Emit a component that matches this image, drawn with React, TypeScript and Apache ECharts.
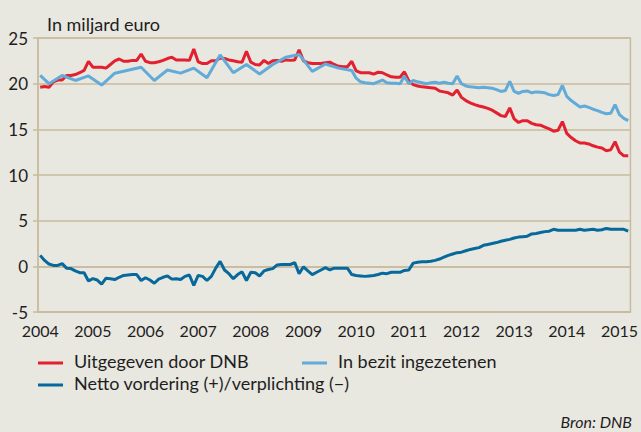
import React, { useEffect, useRef } from "react";
import * as echarts from "echarts";

// Monthly, January 2004 – March 2015 (135 months)
const startYear = 2004;
const monthCount = 135;

const uitgegeven: number[] = [
  19.6, 19.7, 19.6, 20.2, 20.4, 20.4, 20.9, 20.9, 21.0, 21.2, 21.45, 22.45,
  21.8, 21.8, 21.8, 21.7, 22.1, 22.5, 22.7, 22.45, 22.45, 22.55, 22.55, 23.25,
  22.45, 22.3, 22.3, 22.4, 22.55, 22.75, 22.9, 22.6, 22.6, 22.6, 22.55, 23.8,
  22.4, 22.2, 22.2, 22.5, 22.5, 22.8, 22.75, 22.6, 22.5, 22.4, 22.35, 23.55,
  22.35, 22.1, 22.05, 22.55, 22.2, 22.5, 22.55, 22.45, 22.6, 22.55, 22.6, 23.7,
  22.5, 22.3, 22.2, 22.2, 22.2, 22.3, 22.35, 22.1, 21.9, 21.85, 21.85, 22.45,
  21.4, 21.2, 21.2, 21.2, 21.05, 21.25, 21.2, 20.95, 20.75, 20.7, 20.7, 21.3,
  20.3, 19.9, 19.75, 19.65, 19.6, 19.55, 19.5, 19.2, 19.1, 19.0, 18.75, 19.3,
  18.5, 18.15, 17.9, 17.7, 17.55, 17.45, 17.3, 17.1, 16.8, 16.5, 16.4, 17.35,
  16.15, 15.75, 15.95, 15.95, 15.65, 15.5, 15.45, 15.25, 15.05, 14.8, 14.9, 15.85,
  14.55, 14.1, 13.75, 13.5, 13.5, 13.4, 13.2, 13.05, 12.95, 12.65, 12.75, 13.65,
  12.5, 12.1, 12.1,
];

// quarterly observations in the early years (null = no observation)
const ingezetenen: (number | null)[] = [
  20.9, null, 20.0, null, null, 20.9, null, null, 20.35, null, null, 20.85,
  null, null, 19.85, null, null, 21.15, null, null, null, null, null, 21.8,
  null, null, 20.35, null, null, 21.5, null, null, 21.15, null, null, 21.7,
  null, null, 20.65, null, null, 23.15, null, null, 21.2, null, null, 22.1,
  null, null, 21.05, null, null, 22.1, null, null, 22.9, null, null, 23.2,
  null, null, 21.35, null, null, 22.15, null, null, 21.7, null, null, 21.45,
  20.6, 20.2, 20.1, 20.05, 20.0, 20.2, 20.4, 20.1, 20.05, 20.05, 20.0, 20.8,
  20.0, 20.35, 20.2, 20.1, 20.0, 20.1, 20.15, 20.05, 20.15, 20.05, 20.0, 20.85,
  20.0, 19.75, 19.65, 19.6, 19.55, 19.6, 19.55, 19.5, 19.35, 19.15, 19.25, 20.25,
  19.15, 18.95, 19.15, 19.2, 19.0, 19.1, 19.05, 19.0, 18.8, 18.7, 18.8, 19.8,
  18.6, 18.15, 17.8, 17.45, 17.55, 17.4, 17.2, 17.05, 16.85, 16.7, 16.75, 17.7,
  16.6, 16.2, 15.95,
];

const netto: number[] = [
  1.2, 0.65, 0.25, 0.1, 0.1, 0.3, -0.2, -0.25, -0.5, -0.7, -0.7, -1.6,
  -1.35, -1.5, -1.95, -1.3, -1.35, -1.45, -1.2, -1.0, -0.95, -0.9, -0.9, -1.55,
  -1.25, -1.5, -1.85, -1.4, -1.2, -1.05, -1.4, -1.35, -1.45, -1.1, -0.95, -2.1,
  -1.0, -1.1, -1.55, -1.1, -0.2, 0.55, -0.4, -0.8, -1.35, -0.9, -0.6, -1.55,
  -0.65, -0.7, -1.05, -0.5, -0.35, -0.25, 0.15, 0.2, 0.2, 0.2, 0.4, -0.8,
  -0.05, -0.5, -0.9, -0.65, -0.4, -0.15, -0.4, -0.2, -0.2, -0.2, -0.2, -0.9,
  -1.0, -1.05, -1.1, -1.05, -1.0, -0.9, -0.75, -0.8, -0.65, -0.65, -0.65, -0.45,
  -0.4, 0.35, 0.45, 0.5, 0.5, 0.55, 0.65, 0.8, 1.0, 1.2, 1.35, 1.5,
  1.55, 1.7, 1.85, 1.95, 2.05, 2.3, 2.4, 2.5, 2.6, 2.75, 2.85, 2.95,
  3.1, 3.2, 3.25, 3.3, 3.55, 3.6, 3.7, 3.8, 3.85, 4.05, 3.95, 3.95,
  3.95, 3.95, 3.95, 4.05, 3.95, 4.0, 4.05, 3.95, 4.0, 4.15, 4.05, 4.05,
  4.05, 4.05, 3.85,
];

const yTicks = { min: -5, max: 25, interval: 5 };

const seriesNames = [
  "Uitgegeven door DNB",
  "In bezit ingezetenen",
  "Netto vordering (+)/verplichting (−)",
];

const months: string[] = [];
for (let i = 0; i < monthCount; i++) {
  const y = startYear + Math.floor(i / 12);
  const m = (i % 12) + 1;
  months.push(`${y}-${m < 10 ? "0" + m : m}`);
}

const RED = "#e3202f";
const LIGHT = "#62abd9";
const DARK = "#07699b";
const BG = "#e8e7e0";
const TAN = "#c9bb9e";
const TEXT = "#1e1e1e";
const FONT = "Lato, 'Open Sans', sans-serif";

export default function App() {
  const ref = useRef<HTMLDivElement>(null);
  useEffect(() => {
    if (!ref.current) return;
    const chart = echarts.init(ref.current, undefined, { renderer: "svg" });
    const legendItems = [
      { color: RED, name: seriesNames[0], x: 38, y: 363 },
      { color: LIGHT, name: seriesNames[1], x: 302, y: 363 },
      { color: DARK, name: seriesNames[2], x: 38, y: 385 },
    ];
    const graphic: any[] = [];
    legendItems.forEach((it) => {
      graphic.push({
        type: "rect",
        left: it.x,
        top: it.y - 1.5,
        shape: { width: 25, height: 3 },
        style: { fill: it.color },
      });
      graphic.push({
        type: "text",
        left: it.x + 36,
        top: it.y - 11,
        style: { text: it.name, fill: TEXT, font: `18px ${FONT}` },
      });
    });
    graphic.push({
      type: "text",
      right: 9,
      top: 413,
      style: { text: "Bron: DNB", fill: TEXT, font: `italic 16px ${FONT}` },
    });

    chart.setOption({
      animation: false,
      backgroundColor: BG,
      textStyle: { fontFamily: FONT },
      title: {
        text: "In miljard euro",
        left: 42,
        top: 10,
        textStyle: { fontSize: 18, fontWeight: "normal", color: TEXT, fontFamily: FONT },
      },
      grid: {
        left: 38,
        right: 7,
        top: 38,
        bottom: 120,
        show: true,
        borderColor: TAN,
        borderWidth: 1.5,
        backgroundColor: "transparent",
      },
      xAxis: [
        {
          type: "category",
          data: months,
          boundaryGap: true,
          position: "bottom",
          axisLine: { onZero: false, lineStyle: { color: TAN, width: 1.5 } },
          axisTick: { interval: 11, length: 5, lineStyle: { color: TAN, width: 1.5 } },
          axisLabel: {
            interval: 11,
            formatter: (v: string) => v.slice(0, 4),
            margin: 10,
            fontSize: 16,
            color: TEXT,
            fontFamily: FONT,
          },
          splitLine: { show: false },
        },
        {
          type: "category",
          data: months,
          boundaryGap: true,
          position: "top",
          axisLine: { onZero: true, lineStyle: { color: TAN, width: 1.5 } },
          axisTick: { inside: true, interval: 11, length: 4, lineStyle: { color: TAN, width: 1.5 } },
          axisLabel: { show: false },
          splitLine: { show: false },
        },
      ],
      yAxis: {
        type: "value",
        min: yTicks.min,
        max: yTicks.max,
        interval: yTicks.interval,
        axisLine: { show: true, lineStyle: { color: TAN, width: 1.5 } },
        axisTick: { show: true, length: 5, lineStyle: { color: TAN, width: 1.5 } },
        axisLabel: { fontSize: 17, color: TEXT, margin: 10, fontFamily: FONT },
        splitLine: { show: true, lineStyle: { color: TAN, width: 1.5 } },
      },
      series: [
        {
          name: seriesNames[0],
          type: "line",
          data: uitgegeven,
          xAxisIndex: 0,
          showSymbol: false,
          lineStyle: { color: RED, width: 3 },
          itemStyle: { color: RED },
        },
        {
          name: seriesNames[1],
          type: "line",
          data: ingezetenen,
          connectNulls: true,
          xAxisIndex: 0,
          showSymbol: false,
          lineStyle: { color: LIGHT, width: 3 },
          itemStyle: { color: LIGHT },
        },
        {
          name: seriesNames[2],
          type: "line",
          data: netto,
          xAxisIndex: 0,
          showSymbol: false,
          lineStyle: { color: DARK, width: 3 },
          itemStyle: { color: DARK },
        },
      ],
      graphic,
    });
    return () => chart.dispose();
  }, []);
  return (
    <div
      ref={ref}
      style={{ position: "fixed", left: 0, top: 0, width: 641, height: 432, background: BG }}
    />
  );
}
